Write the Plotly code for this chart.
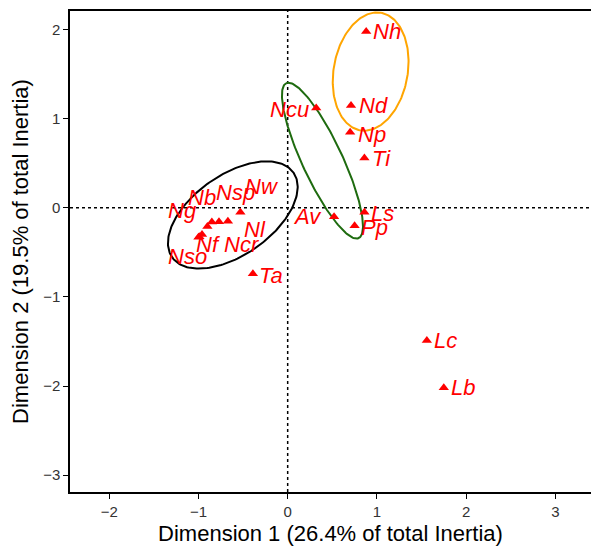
import numpy as np
import plotly.graph_objects as go

# ---- data ----
labels = ["Nh", "Nd", "Ncu", "Np", "Ti", "Ls", "Pp", "Av", "Ta", "Lc", "Lb",
          "Nw", "Nl", "Nsp", "Nb", "Ncr", "Ng", "Nf", "Nso"]
dim1 = [0.88, 0.71, 0.32, 0.70, 0.86, 0.86, 0.75, 0.52, -0.39, 1.56, 1.75,
        -0.53, -0.67, -0.77, -0.85, -0.90, -0.96, -0.99, -1.00]
dim2 = [1.98, 1.15, 1.12, 0.85, 0.56, -0.05, -0.20, -0.10, -0.74, -1.49, -2.02,
        -0.05, -0.15, -0.155, -0.16, -0.21, -0.30, -0.325, -0.33]
# label offsets in pixels (dx right, dy down) from each point
label_dx = [21, 22, -27, 22, 17, 18, 20, -27, 18, 19, 19,
            22, 27, 17, -10, 35, -20, 9, -11]
label_dy = [0, 0, 1, 2, 1, 1, 2, 0, 2, 0, 0,
            -26, 8, -29, -25, 18, -24, 8, 19]

# ellipses: centre x, centre y, semi-major, semi-minor, angle (deg), colour
ell_cx = [-0.615, 0.39, 0.93]
ell_cy = [-0.08, 0.53, 1.53]
ell_a = [0.83, 0.96, 0.67]
ell_b = [0.45, 0.225, 0.415]
ell_ang = [35, 115, 80]
ell_col = ["black", "#1E6B0F", "orange"]

x_title = "Dimension 1 (26.4% of total Inertia)"
y_title = "Dimension 2 (19.5% of total Inertia)"
x_ticks = [-2, -1, 0, 1, 2, 3]
y_ticks = [-3, -2, -1, 0, 1, 2]

FONT = "Liberation Sans, Arial"

fig = go.Figure()

t = np.linspace(0, 2 * np.pi, 200)
for cx, cy, a, b, ang, col in zip(ell_cx, ell_cy, ell_a, ell_b, ell_ang, ell_col):
    th = np.deg2rad(ang)
    ex = cx + a * np.cos(t) * np.cos(th) - b * np.sin(t) * np.sin(th)
    ey = cy + a * np.cos(t) * np.sin(th) + b * np.sin(t) * np.cos(th)
    fig.add_trace(go.Scatter(x=ex, y=ey, mode="lines",
                             line=dict(color=col, width=2), hoverinfo="skip"))

fig.add_trace(go.Scatter(x=dim1, y=dim2, mode="markers",
                         marker=dict(symbol="triangle-up", size=9, color="red"),
                         text=labels))

for lab, x, y, dx, dy in zip(labels, dim1, dim2, label_dx, label_dy):
    fig.add_annotation(x=x, y=y, text="<i>" + lab + "</i>", showarrow=False,
                       xshift=dx, yshift=-dy, xanchor="center", yanchor="middle",
                       font=dict(family=FONT, size=22, color="red"))

fig.add_shape(type="line", xref="paper", x0=0, x1=1, yref="y", y0=0, y1=0,
              line=dict(color="black", width=1.5, dash="3px,3px"), layer="below")
fig.add_shape(type="line", yref="paper", y0=0, y1=1, xref="x", x0=0, x1=0,
              line=dict(color="black", width=1.5, dash="3px,3px"), layer="below")

axis_common = dict(showgrid=False, zeroline=False, showline=True, linecolor="black",
                   linewidth=1.5, ticks="outside", ticklen=5, tickwidth=1.2,
                   tickcolor="black", automargin=False,
                   tickfont=dict(family=FONT, size=15, color="#333333"),
                   title_font=dict(family=FONT, size=22, color="black"))

fig.update_layout(
    width=591, height=549,
    margin=dict(l=70, r=0, t=11, b=57),
    plot_bgcolor="white", paper_bgcolor="white",
    showlegend=False,
    xaxis=dict(range=[-2.44, 3.40], tickvals=x_ticks, title=dict(text=x_title, standoff=7),
               mirror=True, **axis_common),
    yaxis=dict(range=[-3.19, 2.21], tickvals=y_ticks, title=dict(text=y_title, standoff=8),
               **axis_common),
)

fig.write_html("out.html", config={"displayModeBar": False},
               post_script="document.body.style.margin='0';document.body.style.overflow='hidden';")
